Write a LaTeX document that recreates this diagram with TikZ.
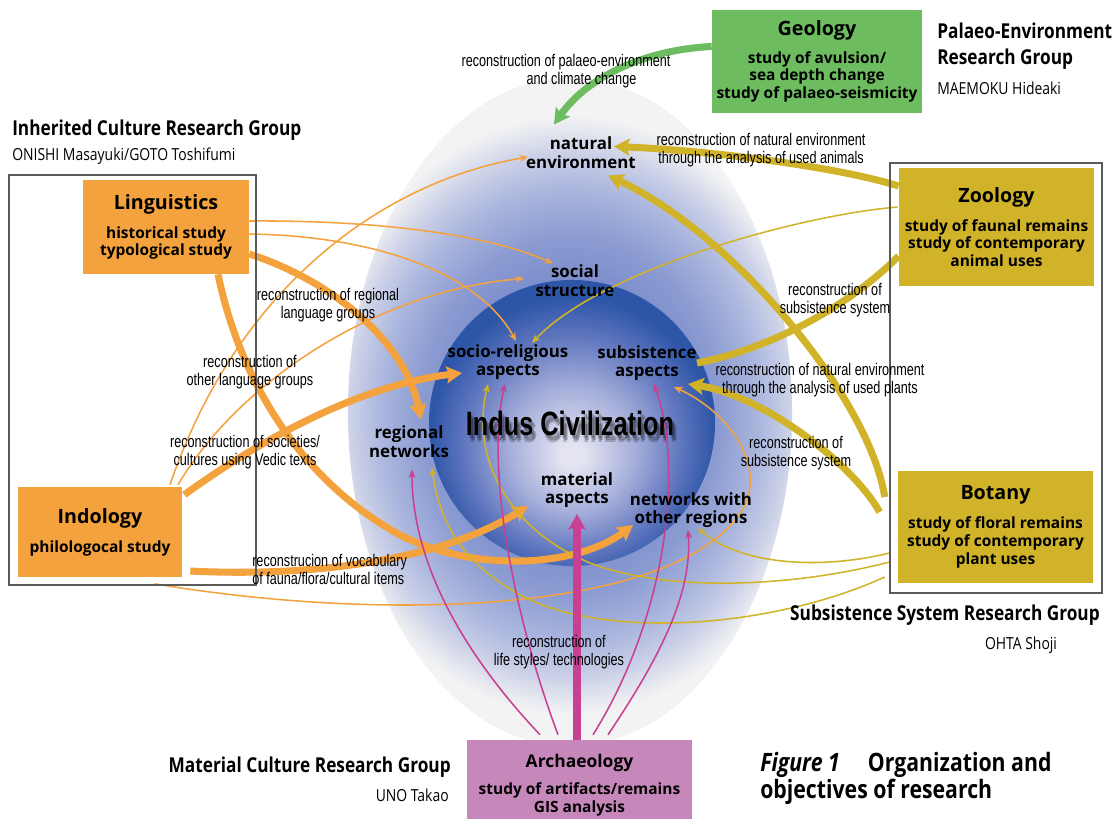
\documentclass[tikz,border=0pt]{standalone}
\usepackage{fontspec}
\setmainfont{Open Sans}
\newfontfamily\narrowfont[FakeStretch=0.84]{Open Sans}
\newfontfamily\condfont[FakeStretch=0.75]{Liberation Sans}
\usetikzlibrary{arrows.meta, calc}

\definecolor{orangebox}{RGB}{244,162,62}
\definecolor{goldbox}{RGB}{209,179,42}
\definecolor{greenbox}{RGB}{109,188,96}
\definecolor{pinkbox}{RGB}{198,136,186}
\definecolor{pinkline}{RGB}{200,64,145}
\definecolor{framegray}{RGB}{90,90,90}
\definecolor{haloA}{RGB}{110,130,198}
\definecolor{haloB}{RGB}{118,137,202}
\definecolor{haloC}{RGB}{140,156,210}
\definecolor{haloD}{RGB}{172,183,222}
\definecolor{haloE}{RGB}{205,210,232}
\definecolor{haloF}{RGB}{232,234,240}
\definecolor{haloG}{RGB}{243,243,244}
\definecolor{sphA}{RGB}{228,228,242}
\definecolor{sphB}{RGB}{165,174,218}
\definecolor{sphC}{RGB}{95,118,190}
\definecolor{sphD}{RGB}{45,85,168}

% tikz maps the path onto the inner 50bp of a shading, so the rim sits at 25bp
\pgfdeclareradialshading{halo}{\pgfpoint{0bp}{0bp}}{color(0bp)=(haloA); color(10bp)=(haloB); color(15bp)=(haloC); color(19bp)=(haloD); color(22bp)=(haloE); color(24bp)=(haloF); color(25bp)=(haloG); color(50bp)=(haloG)}
\pgfdeclareradialshading{sphere}{\pgfpoint{0bp}{-6bp}}{color(0bp)=(sphA); color(2bp)=(sphA); color(11bp)=(sphB); color(19bp)=(sphC); color(25bp)=(sphD); color(50bp)=(sphD)}

\pgfdeclarelayer{shade}
\pgfdeclarelayer{links}
\pgfsetlayers{shade,links,main}

\newcommand{\boxfont}{\bfseries\fontsize{11}{12.6}\selectfont}
\newcommand{\boxhead}{\fontsize{14}{16}\selectfont}
\newcommand{\archead}{\fontsize{12.4}{14}\selectfont}
\newcommand{\aspectfont}{\bfseries\fontsize{12}{13.3}\selectfont}
\newcommand{\civfont}{\condfont\bfseries\fontsize{24}{26}\selectfont}
\newcommand{\notefont}{\condfont\fontsize{12}{12.8}\selectfont}
\newcommand{\groupfont}{\narrowfont\bfseries\fontsize{14.6}{18.4}\selectfont}
\newcommand{\memberfont}{\narrowfont\fontsize{11.8}{14}\selectfont}
\newcommand{\capfont}{\narrowfont\bfseries\fontsize{18}{16.5}\selectfont}

\begin{document}
\begin{tikzpicture}[x=0.025cm, y=-0.025cm]
  \tikzstyle{box}=[inner sep=0pt, align=center, font=\boxfont]
  \tikzstyle{frame}=[draw=framegray, line width=1pt, inner sep=0pt]
  \tikzstyle{aspect}=[inner sep=0pt, align=center, font=\aspectfont]
  \tikzstyle{note}=[inner sep=0pt, align=center, font=\notefont]
  \tikzstyle{group}=[inner sep=0pt, font=\groupfont]
  \tikzstyle{member}=[inner sep=0pt, font=\memberfont]
  \tikzstyle{civshadow}=[inner sep=0pt, font=\civfont, text=black, opacity=0.2]
  \tikzstyle{thinlink}=[line width=1.1pt, -{Stealth[length=6pt, width=5pt]}]
  \tikzstyle{thicklink}=[line width=5pt, -{Stealth[length=11pt, width=12pt, inset=2pt]}]

  \useasboundingbox (0,0) rectangle (1116,818);

  % halo and sphere
  \begin{pgfonlayer}{shade}
    \begin{scope}
      \clip (570,412) ellipse [x radius=5.55cm, y radius=8.35cm];
      \fill[haloG] (570,412) ellipse [x radius=5.55cm, y radius=8.35cm];
      \shade[shading=halo] (570,415) ellipse [x radius=6.25cm, y radius=7.5cm];
    \end{scope}
    \shade[shading=sphere] (572,423) circle [radius=3.575cm];
    \foreach \dx/\dy [count=\k] in {2/3, 4/5, 3/7}
      \node[civshadow] (civshadow\k) at (570+\dx,423+\dy) {Indus Civilization};
  \end{pgfonlayer}

  % group frames
  \node[frame, minimum width=6.175cm, minimum height=10.25cm] (inhframe) at (132.5,380) {};
  \node[frame, minimum width=5.3cm, minimum height=10.75cm] (subframe) at (996,378) {};

  % research fields
  \node[box, fill=greenbox, minimum width=5.25cm, minimum height=2.575cm] (geo) at (817,61.5)
    {{\boxhead Geology}\\[7pt] study of avulsion/\\ sea depth change\\ study of palaeo-seismicity};
  \node[box, fill=orangebox, minimum width=4.15cm, minimum height=2.35cm] (lng) at (166,227)
    {{\boxhead Linguistics}\\[8pt] historical study\\ typological study};
  \node[box, fill=orangebox, minimum width=4.1cm, minimum height=2.25cm] (ind) at (100,532)
    {{\boxhead Indology}\\[8pt] philologocal study};
  \node[box, fill=goldbox, minimum width=4.875cm, minimum height=2.95cm] (zoo) at (996.5,227)
    {{\boxhead Zoology}\\[8pt] study of faunal remains\\ study of contemporary\\ animal uses};
  \node[box, fill=goldbox, minimum width=4.875cm, minimum height=2.8cm] (bot) at (995.5,527)
    {{\boxhead Botany}\\[8pt] study of floral remains\\ study of contemporary\\ plant uses};
  \node[box, fill=pinkbox, minimum width=5.625cm, minimum height=2.25cm] (arc) at (579.5,785)
    {{\archead Archaeology}\\[7pt] study of artifacts/remains\\ GIS analysis};

  % research groups
  \node[group, anchor=west] (inhgrp) at (12,130) {Inherited Culture Research Group};
  \node[member, anchor=west] (inhmem) at (12,156) {ONISHI Masayuki/GOTO Toshifumi};
  \node[group, anchor=west, align=left] (palgrp) at (937,46) {Palaeo-Environment\\Research Group};
  \node[member, anchor=west] (palmem) at (937,88) {MAEMOKU Hideaki};
  \node[group, anchor=east] (subgrp) at (1100,615) {Subsistence System Research Group};
  \node[member] (submem) at (1021,645) {OHTA Shoji};
  \node[group, anchor=east] (matgrp) at (451,767) {Material Culture Research Group};
  \node[member, anchor=east] (matmem) at (449,795) {UNO Takao};
  \node[inner sep=0pt, anchor=west, align=left, font=\capfont] (fig) at (760,778)
    {\textit{Figure 1}\hspace{20pt}Organization and\\objectives of research};

  % aspects of the civilization
  \node[inner sep=0pt, font=\civfont] (civ) at (570,423) {Indus Civilization};
  \node[aspect] (natenv) at (581,152.5) {natural\\environment};
  \node[aspect] (socst) at (575,280.5) {social\\structure};
  \node[aspect] (socrel) at (508,362) {socio-religious\\aspects};
  \node[aspect] (subs) at (647,363) {subsistence\\aspects};
  \node[aspect] (regnet) at (409,441.5) {regional\\networks};
  \node[aspect] (mat) at (577,490) {material\\aspects};
  \node[aspect] (netoth) at (691,510) {networks with\\other regions};

  % link labels
  \node[note] (palnote) at (566,71) {reconstruction of palaeo-environment\\\hspace*{22pt}and climate change};
  \node[note] (animnote) at (761,150.5) {reconstruction of natural environment\\through the analysis of used animals};
  \node[note] (regnote) at (328,305) {reconstruction of regional\\language groups};
  \node[note] (othnote) at (250,372) {reconstruction of\\other language groups};
  \node[note] (vednote) at (245,452.5) {reconstruction of societies/\\cultures using Vedic texts};
  \node[note, anchor=west, align=left] (vocnote) at (252,569) {reconstrucion of vocabulary\\of fauna/flora/cultural items};
  \node[note] (subnoteA) at (835,300.5) {reconstruction of\\subsistence system};
  \node[note] (plantnote) at (820,380) {reconstruction of natural environment\\through the analysis of used plants};
  \node[note] (subnoteB) at (796,453.5) {reconstruction of\\subsistence system};
  \node[note] (lifenote) at (559,652) {reconstruction of\\life styles/ technologies};

  \begin{pgfonlayer}{links}
    % palaeo-environment
    \draw[thicklink, greenbox] ($(geo.west)+(0,-15)$) .. controls (640,50) and (585,80) .. ($(natenv)+(-27,-28)$);

    % inherited culture
    \draw[thinlink, orangebox] ($(lng.east)+(0,-6)$) .. controls (380,220) and (490,235) .. ($(socst)+(-22,-17)$);
    \draw[thinlink, orangebox] ($(lng.east)+(0,7)$) .. controls (380,236) and (480,275) .. ($(socrel)+(8,-21)$);
    \draw[thicklink, orangebox] ($(lng.east)+(0,27)$) .. controls (330,280) and (405,340) .. ($(regnet)+(12,-22)$);
    \draw[thicklink, orangebox] ($(lng.south)+(52,0)$) .. controls (240,380) and (300,480) .. (400,535)
      .. controls (480,575) and (580,565) .. ($(netoth)+(-58,15)$);
    \draw[thinlink, orangebox] ($(ind.north)+(70,-2)$) .. controls (240,280) and (390,180) .. ($(natenv)+(-53,4.5)$);
    \draw[thinlink, orangebox] ($(ind.north)+(78,-2)$) .. controls (240,380) and (380,290) .. ($(socst)+(-51,-2)$);
    \draw[thicklink, orangebox] ($(ind.north east)+(2,8)$) .. controls (260,440) and (360,385) .. ($(socrel)+(-46,11)$);
    \draw[thicklink, orangebox] ($(ind.east)+(8,39)$) .. controls (330,578) and (450,555) .. ($(mat)+(-49,16)$);
    \draw[thinlink, orangebox] ($(inhframe.south)+(22,-2)$) .. controls (400,625) and (690,610) .. (745,505)
      .. controls (765,460) and (725,410) .. ($(subs)+(27,24)$);

    % subsistence system
    \draw[thicklink, goldbox] ($(zoo.west)+(0,-41)$) .. controls (830,165) and (700,150) .. ($(natenv)+(33,-6)$);
    \draw[thinlink, goldbox] ($(zoo.west)+(-1,-20)$) .. controls (800,215) and (600,270) .. ($(socrel)+(24,-19)$);
    \draw[line width=5pt, goldbox] ($(zoo.west)+(0,29)$) .. controls (845,310) and (765,350) .. ($(subs)+(50,0)$);
    \draw[thicklink, goldbox] ($(bot.west)+(-13,-30)$) .. controls (870,400) and (735,235) .. ($(natenv)+(27,23)$);
    \draw[thicklink, goldbox] ($(bot.west)+(-18,-15)$) .. controls (850,460) and (760,395) .. ($(subs)+(41,21)$);
    \draw[thinlink, goldbox] ($(bot.west)+(-8,26)$) .. controls (820,570) and (740,565) .. ($(netoth)+(7,18)$);
    \draw[thinlink, goldbox] ($(bot.west)+(-8,35)$) .. controls (780,590) and (660,590) .. (590,563)
      .. controls (510,530) and (470,460) .. ($(socrel)+(-20,22)$);
    \draw[thinlink, goldbox] ($(bot.west)+(-13,50)$) .. controls (780,625) and (620,640) .. (530,600)
      .. controls (470,570) and (440,530) .. ($(regnet)+(23,26)$);

    % material culture
    \draw[thicklink, pinkline] ($(arc.north)+(-2.5,0)$) -- ($(mat)+(0,24)$);
    \draw[thinlink, pinkline] ($(arc.north)+(-39.5,-5)$) .. controls (460,650) and (412,560) .. ($(regnet)+(3,28)$);
    \draw[thinlink, pinkline] ($(arc.north)+(-21.5,-5)$) .. controls (515,620) and (485,470) .. ($(socrel)+(-3,22)$);
    \draw[thinlink, pinkline] ($(arc.north)+(13.5,-5)$) .. controls (665,620) and (685,470) .. ($(subs)+(7,21)$);
    \draw[thinlink, pinkline] ($(arc.north)+(28.5,-5)$) .. controls (665,650) and (692,590) .. ($(netoth)+(-3,20)$);
  \end{pgfonlayer}
\end{tikzpicture}
\end{document}
